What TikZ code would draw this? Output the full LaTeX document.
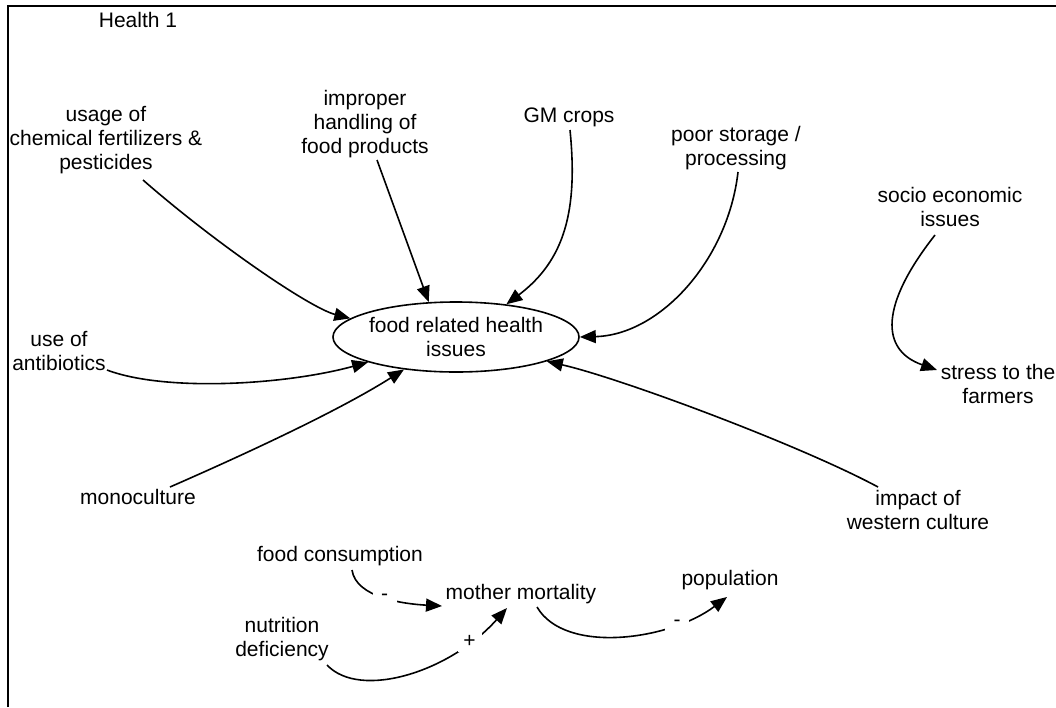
\documentclass[tikz,border=0pt]{standalone}
\usepackage{fontspec}
\setmainfont{Liberation Sans}
\usetikzlibrary{shapes.geometric,arrows.meta}
\begin{document}
\begin{tikzpicture}[x=1pt,y=-1pt,
  lbl/.style={font=\fontsize{21}{24}\selectfont, align=center, inner sep=0pt},
  link/.style={line width=1.6pt, -{Triangle[length=16pt,width=13pt]}},
  sign/.style={font=\fontsize{21}{24}\selectfont, fill=white, inner sep=0pt,
                minimum width=24pt, minimum height=20pt}]
\useasboundingbox (0,0) rectangle (1056,707);
% view frame
\draw[line width=2.5pt] (8,707) -- (8,6) -- (1056,6);

% variables
\node[lbl] (title)    at (138,20)  {Health 1};
\node[lbl] (usage)    at (106,140) {usage of\\chemical fertilizers \&\\pesticides};
\node[lbl] (improper) at (365,124) {improper\\handling of\\food products};
\node[lbl] (gm)       at (569,117) {GM crops};
\node[lbl] (poor)     at (736,148) {poor storage /\\processing};
\node[lbl] (socio)    at (950,207) {socio economic\\issues};
\node[lbl] (stress)   at (998,384) {stress to the\\farmers};
\node[lbl] (antib)    at (59,351)  {use of\\antibiotics};
\node[lbl] (mono)     at (138,497) {monoculture};
\node[lbl] (impact)   at (918,510) {impact of\\western culture};
\node[lbl] (foodcons) at (340,556) {food consumption};
\node[lbl] (mother)   at (521,594) {mother mortality};
\node[lbl] (pop)      at (730,580) {population};
\node[lbl] (nutr)     at (282,639) {nutrition\\deficiency};
\node[draw, ellipse, line width=1.6pt, minimum width=222pt, minimum height=70pt,
      inner sep=0pt, align=center, font=\fontsize{21}{24}\selectfont]
      (food) at (456,337) {food related health\\issues};

% causal links into the central issue
\draw[link] ([shift={(37,40)}]usage.center)
  .. controls (215,243) and (310,308) .. (food.170);
\draw[link] ([shift={(12,36)}]improper.center) -- (food.128);
\draw[link] ([shift={(1,13)}]gm.center)
  .. controls (578,210) and (565,260) .. (food.33);
\draw[link] ([shift={(2,24)}]poor.center)
  .. controls (728,260) and (660,335) .. (food.0);
\draw[link] ([shift={(48,19)}]antib.center)
  .. controls (165,392) and (285,385) .. (food.196);
\draw[link] ([shift={(32,-10)}]mono.center)
  .. controls (250,452) and (340,410) .. (food.212);
\draw[link] ([shift={(-40,-23)}]impact.center)
  .. controls (800,445) and (620,378) .. (food.345);

% socio economic link
\draw[link] ([shift={(-15,28)}]socio.center)
  .. controls (880,305) and (880,350) .. ([shift={(-61,-14)}]stress.center);

% mortality loop
\draw[link] ([shift={(12,14)}]foodcons.center)
  .. controls (356,598) and (405,604) .. node[sign,pos=0.5] (s1) {-}
  ([shift={(-79,12)}]mother.center);
\draw[link] ([shift={(45,26)}]nutr.center)
  .. controls (360,700) and (450,672) .. node[sign,pos=0.8] (s2) {+}
  ([shift={(-14,14)}]mother.center);
\draw[link] ([shift={(16,13)}]mother.center)
  .. controls (565,655) and (670,640) .. node[sign,pos=0.75] (s3) {-}
  ([shift={(-3,17)}]pop.center);
\end{tikzpicture}
\end{document}
